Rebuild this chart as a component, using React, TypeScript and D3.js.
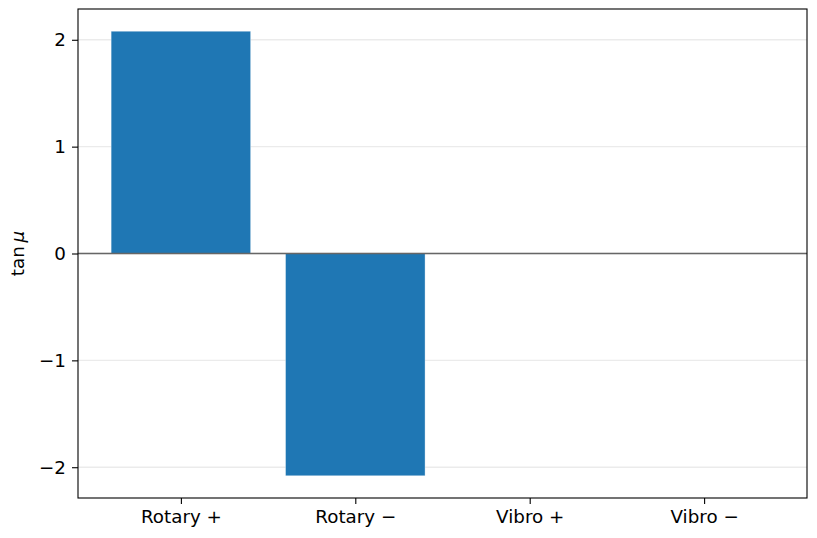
import { useEffect, useRef } from 'react';
import * as d3 from 'd3';

const categories = ['Rotary +', 'Rotary \u2212', 'Vibro +', 'Vibro \u2212'];
const values = [2.08, -2.08, 0, 0];
const yTicks = [-2, -1, 0, 1, 2];

export default function App() {
  const svgRef = useRef<SVGSVGElement>(null);

  useEffect(() => {
    if (!svgRef.current) return;
    const width = 817;
    const height = 538;
    const margin = { top: 9, right: 10, bottom: 40, left: 78 };
    const fontSize = '18.3px';
    const svg = d3.select(svgRef.current);
    svg.selectAll('*').remove();
    svg.attr('width', width).attr('height', height);

    const plotW = width - margin.left - margin.right;
    const plotH = height - margin.top - margin.bottom;

    const g = svg.append('g').attr('transform', `translate(${margin.left},${margin.top})`);

    // matplotlib-style margins around the bars
    const n = categories.length;
    const xPad = (n - 1 + 0.8) * 0.05;
    const x = d3.scaleLinear().domain([-0.4 - xPad, n - 1 + 0.4 + xPad]).range([0, plotW]);
    const yMax = d3.max(values.map(Math.abs)) ?? 1;
    const y = d3.scaleLinear().domain([-yMax * 1.1, yMax * 1.1]).range([plotH, 0]);

    // grid
    g.append('g')
      .selectAll('line')
      .data(yTicks)
      .enter()
      .append('line')
      .attr('x1', 0)
      .attr('x2', plotW)
      .attr('y1', d => y(d))
      .attr('y2', d => y(d))
      .attr('stroke', '#ebebeb')
      .attr('stroke-width', 1.4);

    // bars
    g.append('g')
      .selectAll('rect')
      .data(values)
      .enter()
      .append('rect')
      .attr('x', (d, i) => x(i - 0.4))
      .attr('width', x(0.8) - x(0))
      .attr('y', d => y(Math.max(0, d)))
      .attr('height', d => Math.abs(y(d) - y(0)))
      .attr('fill', '#1f77b4')
      .attr('stroke', '#ffffff')
      .attr('stroke-opacity', 0.5)
      .attr('stroke-width', 0.7);

    // zero line
    g.append('line')
      .attr('x1', 0)
      .attr('x2', plotW)
      .attr('y1', y(0))
      .attr('y2', y(0))
      .attr('stroke', '#666666')
      .attr('stroke-width', 1.6);

    // y axis
    const yAxis = g.append('g').call(
      d3.axisLeft(y)
        .tickValues(yTicks)
        .tickSize(6)
        .tickPadding(6)
        .tickFormat(d => (d as number) < 0 ? `\u2212${Math.abs(d as number)}` : `${d}`)
    );
    yAxis.select('.domain').remove();
    yAxis.selectAll('line').attr('stroke', '#000').attr('stroke-width', 1.1);

    // x axis
    const xAxis = g.append('g')
      .attr('transform', `translate(0,${plotH})`)
      .call(
        d3.axisBottom(x)
          .tickValues(d3.range(n))
          .tickSize(6)
          .tickPadding(6)
          .tickFormat(d => categories[d as number])
      );
    xAxis.select('.domain').remove();
    xAxis.selectAll('line').attr('stroke', '#000').attr('stroke-width', 1.1);

    svg.selectAll('.tick text')
      .attr('font-family', '"DejaVu Sans", sans-serif')
      .attr('font-size', fontSize)
      .attr('fill', '#000');
    yAxis.attr('font-size', fontSize);
    xAxis.attr('font-size', fontSize);

    // frame
    g.append('rect')
      .attr('x', 0)
      .attr('y', 0)
      .attr('width', plotW)
      .attr('height', plotH)
      .attr('fill', 'none')
      .attr('stroke', '#000')
      .attr('stroke-width', 1.1);

    // y label
    const label = svg.append('text')
      .attr('transform', `translate(24,${margin.top + plotH / 2}) rotate(-90)`)
      .attr('text-anchor', 'middle')
      .attr('font-family', '"DejaVu Sans", sans-serif')
      .attr('font-size', fontSize)
      .attr('fill', '#000');
    label.append('tspan').text('tan\u2009');
    label.append('tspan').attr('font-style', 'italic').text('\u03bc');
  }, []);

  return <svg ref={svgRef} style={{ display: 'block', margin: '-8px' }}></svg>;
}
